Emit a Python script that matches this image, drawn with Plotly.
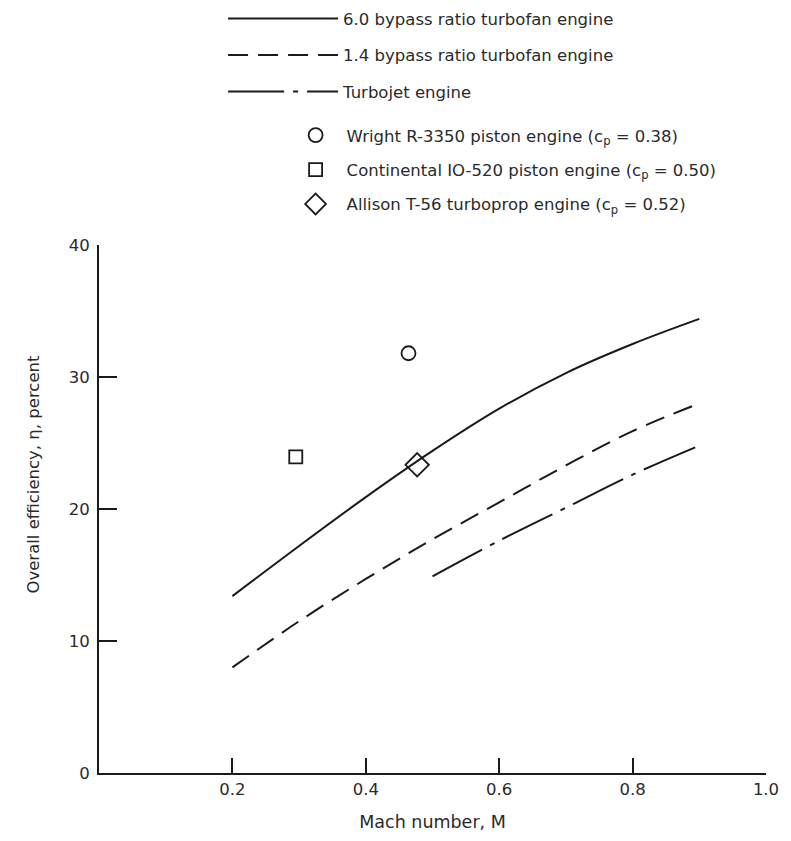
import plotly.graph_objects as go

# ---- data ----
mach_bpr60 = [0.2, 0.3, 0.4, 0.5, 0.6, 0.7, 0.8, 0.9]
eta_bpr60 = [13.4, 17.2, 20.9, 24.4, 27.6, 30.3, 32.5, 34.4]

mach_bpr14 = [0.2, 0.3, 0.4, 0.5, 0.6, 0.7, 0.8, 0.9]
eta_bpr14 = [8.0, 11.5, 14.7, 17.7, 20.5, 23.3, 25.9, 28.0]

mach_jet = [0.5, 0.6, 0.7, 0.8, 0.9]
eta_jet = [14.9, 17.6, 20.1, 22.6, 24.8]

wright_mach = [0.464]
wright_eta = [31.8]
continental_mach = [0.295]
continental_eta = [23.95]
allison_mach = [0.477]
allison_eta = [23.35]

x_ticks = [0.2, 0.4, 0.6, 0.8, 1.0]
x_ticktext = ["0.2", "0.4", "0.6", "0.8", "1.0"]
y_ticks = [0, 10, 20, 30, 40]
y_ticktext = ["0", "10", "20", "30", "40"]

names_lines = ["6.0 bypass ratio turbofan engine",
               "1.4 bypass ratio turbofan engine",
               "Turbojet engine"]
names_pts = ["Wright R-3350 piston engine (c<sub>p</sub> = 0.38)",
             "Continental IO-520 piston engine (c<sub>p</sub> = 0.50)",
             "Allison T-56 turboprop engine (c<sub>p</sub> = 0.52)"]
x_title = "Mach number, M"
y_title = "Overall efficiency, η, percent"

INK = "#1a1a1a"
TXT = "#2a2a2a"
FONT = "DejaVu Sans"
FS = 16.5

# page is shifted up by SHIFT px so the top legend can sit closer to the edge
SHIFT = 10
W, H = 791, 841 + SHIFT
L, R, T, B = 99, 20, 251, 56
PW, PH = W - L - R, H - T - B


def px_x(p):
    return (p - L) / PW


def px_y(page_y):
    return (H - B - (page_y + SHIFT)) / PH


fig = go.Figure()

fig.add_trace(go.Scatter(x=mach_bpr60, y=eta_bpr60, mode="lines", name=names_lines[0],
                         line=dict(color=INK, width=2, shape="spline"),
                         legend="legend", legendgroup="a"))
fig.add_trace(go.Scatter(x=mach_bpr14, y=eta_bpr14, mode="lines", name=names_lines[1],
                         line=dict(color=INK, width=2, shape="spline", dash="20px,10px"),
                         legend="legend", legendgroup="b"))
fig.add_trace(go.Scatter(x=mach_jet, y=eta_jet, mode="lines", name=names_lines[2],
                         line=dict(color=INK, width=2, shape="spline", dash="56px,9px,5px,9px"),
                         legend="legend", legendgroup="c"))

fig.add_trace(go.Scatter(x=wright_mach, y=wright_eta, mode="markers", name=names_pts[0],
                         marker=dict(symbol="circle-open", size=14, color=INK, line=dict(width=1.8)),
                         legend="legend2", legendgroup="d"))
fig.add_trace(go.Scatter(x=continental_mach, y=continental_eta, mode="markers", name=names_pts[1],
                         marker=dict(symbol="square-open", size=13, color=INK, line=dict(width=1.8)),
                         legend="legend2", legendgroup="e"))
fig.add_trace(go.Scatter(x=allison_mach, y=allison_eta, mode="markers", name=names_pts[2],
                         marker=dict(symbol="diamond-open", size=18, color=INK, line=dict(width=1.8)),
                         legend="legend2", legendgroup="f"))

fig.update_layout(
    width=W, height=H,
    margin=dict(l=L, r=R, t=T, b=B),
    paper_bgcolor="white", plot_bgcolor="white",
    font=dict(family=FONT, size=FS, color=TXT),
    showlegend=True,
    legend=dict(x=px_x(224), y=px_y(-SHIFT), xanchor="left", yanchor="top",
                itemwidth=110, tracegroupgap=12, traceorder="grouped",
                font=dict(family=FONT, size=FS, color=TXT), bgcolor="rgba(0,0,0,0)"),
    legend2=dict(x=px_x(286), y=px_y(110), xanchor="left", yanchor="top",
                 itemwidth=52, tracegroupgap=10, traceorder="grouped",
                 font=dict(family=FONT, size=FS, color=TXT), bgcolor="rgba(0,0,0,0)"),
    xaxis=dict(range=[0, 1], showgrid=False, zeroline=False, showline=True,
               linecolor=INK, linewidth=2, ticks="inside", ticklen=15, tickwidth=1.5,
               tickcolor=INK, tickvals=x_ticks, ticktext=x_ticktext,
               tickfont=dict(family=FONT, size=FS, color=TXT),
               title=dict(text=x_title, standoff=18,
                          font=dict(family=FONT, size=17.5, color=TXT))),
    yaxis=dict(range=[0, 40], showgrid=False, zeroline=False, showline=True,
               linecolor=INK, linewidth=2, ticks="inside", ticklen=18, tickwidth=1.5,
               tickcolor=INK, tickvals=y_ticks, ticktext=y_ticktext, ticklabelstandoff=4,
               tickfont=dict(family=FONT, size=FS, color=TXT)),
    annotations=[dict(text=y_title, textangle=-90, xref="paper", yref="paper",
                      x=px_x(33), y=px_y(477), xanchor="center", yanchor="middle",
                      showarrow=False, font=dict(family=FONT, size=FS, color=TXT))],
)

fig.write_html("out.html", config={"displayModeBar": False},
               post_script=("document.body.style.margin='0';"
                            "document.body.style.marginTop='-%dpx';"
                            "document.body.style.overflow='hidden';" % SHIFT))
